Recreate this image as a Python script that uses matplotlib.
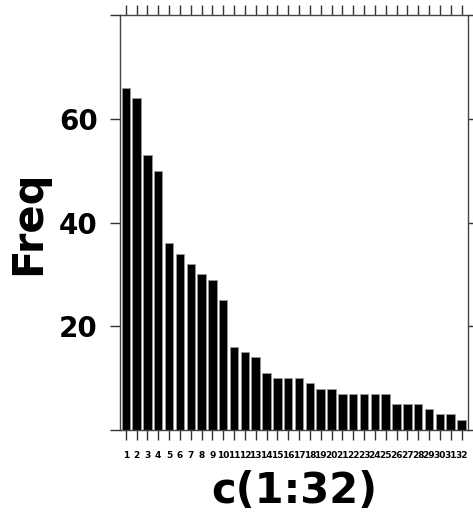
import numpy as np
import matplotlib
matplotlib.use("Agg")
from matplotlib import pyplot as plt

# bar heights
cats = list(range(1, 33))
freq = [66, 64, 53, 50, 36, 34, 32, 30, 29, 25, 16, 15, 14, 11, 10, 10,
        10, 9, 8, 8, 7, 7, 7, 7, 7, 5, 5, 5, 4, 3, 3, 2]
yticks = [0, 20, 40, 60, 80]
ylabels = ["", "20", "40", "60", ""]

plt.rcParams["font.family"] = "DejaVu Sans"
plt.rcParams["font.weight"] = "bold"

fig = plt.figure(figsize=(4.73, 5.16), dpi=100)
ax = fig.add_axes([120 / 473, 86 / 516, 348 / 473, 415 / 516])

ax.bar(cats, freq, width=0.78, color="black", edgecolor="#999999", linewidth=0.6)

ax.set_xlim(0.47, 32.6)
ax.set_ylim(0, 80)

ax.set_xticks(cats)
ax.set_xticklabels([str(c) for c in cats], fontsize=6.5, fontweight="bold")
ax.set_yticks(yticks)
ax.set_yticklabels(ylabels, fontsize=20, fontweight="bold")

ax.tick_params(axis="x", direction="out", length=7, width=1.0, color="#333333",
               top=True, bottom=True, pad=8)
ax.tick_params(axis="y", direction="out", length=7, width=1.0, color="#333333",
               left=True, right=True, pad=9)

for s in ax.spines.values():
    s.set_linewidth(1.0)
    s.set_color("#444444")

ax.set_ylabel("Freq", fontsize=30, fontweight="bold", labelpad=7)
ax.set_xlabel("c(1:32)", fontsize=30, fontweight="bold", labelpad=7)

fig.savefig("out.png", dpi=100)
